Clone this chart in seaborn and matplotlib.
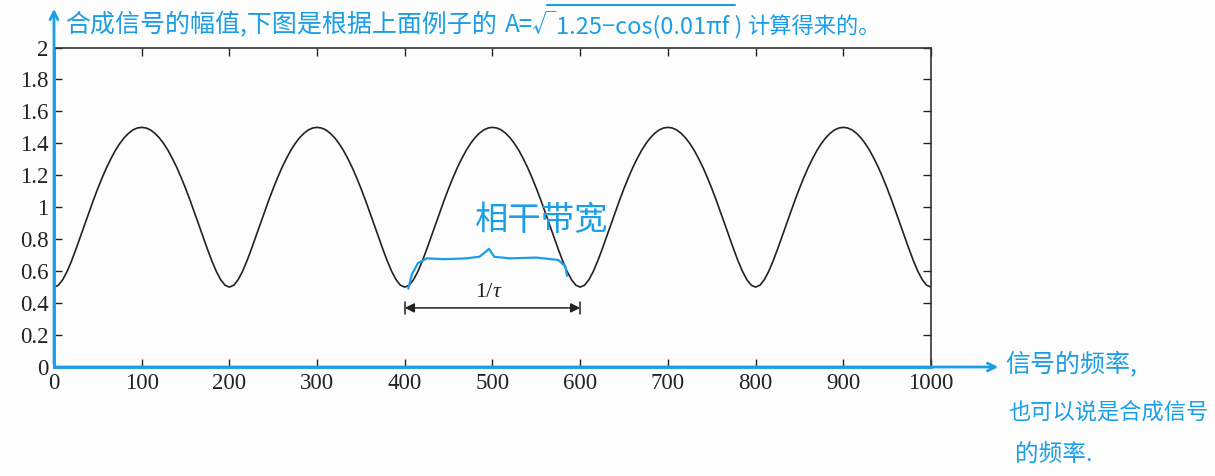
import matplotlib

matplotlib.use("Agg")
import matplotlib.pyplot as plt
import numpy as np
import pandas as pd
import seaborn as sns
from matplotlib.lines import Line2D

# frequency samples and amplitude (period 200, 0.5 .. 1.5)
freq = list(range(0, 1001, 5))
amplitude = [
    0.500, 0.512, 0.547, 0.599, 0.664, 0.737, 0.814, 0.892, 0.970, 1.046,
    1.118, 1.186, 1.249, 1.305, 1.356, 1.399, 1.435, 1.463, 1.484, 1.496,
    1.500, 1.496, 1.484, 1.463, 1.435, 1.399, 1.356, 1.305, 1.249, 1.186,
    1.118, 1.046, 0.970, 0.892, 0.814, 0.737, 0.664, 0.599, 0.547, 0.512,
    0.500, 0.512, 0.547, 0.599, 0.664, 0.737, 0.814, 0.892, 0.970, 1.046,
    1.118, 1.186, 1.249, 1.305, 1.356, 1.399, 1.435, 1.463, 1.484, 1.496,
    1.500, 1.496, 1.484, 1.463, 1.435, 1.399, 1.356, 1.305, 1.249, 1.186,
    1.118, 1.046, 0.970, 0.892, 0.814, 0.737, 0.664, 0.599, 0.547, 0.512,
    0.500, 0.512, 0.547, 0.599, 0.664, 0.737, 0.814, 0.892, 0.970, 1.046,
    1.118, 1.186, 1.249, 1.305, 1.356, 1.399, 1.435, 1.463, 1.484, 1.496,
    1.500, 1.496, 1.484, 1.463, 1.435, 1.399, 1.356, 1.305, 1.249, 1.186,
    1.118, 1.046, 0.970, 0.892, 0.814, 0.737, 0.664, 0.599, 0.547, 0.512,
    0.500, 0.512, 0.547, 0.599, 0.664, 0.737, 0.814, 0.892, 0.970, 1.046,
    1.118, 1.186, 1.249, 1.305, 1.356, 1.399, 1.435, 1.463, 1.484, 1.496,
    1.500, 1.496, 1.484, 1.463, 1.435, 1.399, 1.356, 1.305, 1.249, 1.186,
    1.118, 1.046, 0.970, 0.892, 0.814, 0.737, 0.664, 0.599, 0.547, 0.512,
    0.500, 0.512, 0.547, 0.599, 0.664, 0.737, 0.814, 0.892, 0.970, 1.046,
    1.118, 1.186, 1.249, 1.305, 1.356, 1.399, 1.435, 1.463, 1.484, 1.496,
    1.500, 1.496, 1.484, 1.463, 1.435, 1.399, 1.356, 1.305, 1.249, 1.186,
    1.118, 1.046, 0.970, 0.892, 0.814, 0.737, 0.664, 0.599, 0.547, 0.512,
    0.500,
]
x_ticks = [0, 100, 200, 300, 400, 500, 600, 700, 800, 900, 1000]
y_ticks = [0, 0.2, 0.4, 0.6, 0.8, 1.0, 1.2, 1.4, 1.6, 1.8, 2.0]
y_tick_labels = ["0", "0.2", "0.4", "0.6", "0.8", "1", "1.2", "1.4", "1.6", "1.8", "2"]
span_start, span_end = 400, 600

title_note = "合成信号的幅值,下图是根据上面例子的"
formula_left = "A=√"
formula_body = "1.25−cos(0.01πf )"
formula_tail = "计算得来的。"
brace_note = "相干带宽"
x_notes = ["信号的频率,", "也可以说是合成信号", "的频率."]

BLUE = "#1b9ee8"
W, H = 1215, 476

sns.set_style("ticks")
plt.rcParams["font.family"] = ["Liberation Serif", "DejaVu Serif"]
cjk = ["Noto Sans CJK SC", "DejaVu Sans"]

frame = pd.DataFrame({"freq": freq, "amplitude": amplitude})

fig = plt.figure(figsize=(W / 100, H / 100), dpi=100)
fig.patch.set_facecolor("#fdfdfd")
ax = fig.add_axes([54 / W, 1 - 367 / H, 877 / W, 319.5 / H])
ax.set_facecolor("#fdfdfd")

sns.lineplot(data=frame, x="freq", y="amplitude", ax=ax, color="#222222", linewidth=1.2)

ax.set_xlim(0, 1000)
ax.set_ylim(0, 2)
ax.set_xticks(x_ticks)
ax.set_yticks(y_ticks)
ax.set_yticklabels(y_tick_labels)
ax.set_xlabel("")
ax.set_ylabel("")
ax.tick_params(direction="in", top=True, right=True, length=6, width=1,
               labelsize=16.5, colors="#222222", pad=4)
for side in ["top", "right"]:
    ax.spines[side].set_color("#333333")
    ax.spines[side].set_linewidth(1.2)
for side in ["left", "bottom"]:
    ax.spines[side].set_color(BLUE)
    ax.spines[side].set_linewidth(2)

# 1/tau span marker
ax.annotate("", xy=(span_start, 0.37), xytext=(span_end, 0.37),
            arrowprops=dict(arrowstyle="<|-|>", color="#222222", lw=1.1,
                            mutation_scale=14, shrinkA=0, shrinkB=0))
for xv in [span_start, span_end]:
    ax.plot([xv, xv], [0.33, 0.41], color="#222222", lw=1.1)
ax.text(500, 0.41, "1/", fontsize=16, ha="right", va="bottom", color="#222222")
ax.text(500, 0.41, "τ", fontsize=16, ha="left", va="bottom", color="#222222",
        style="italic")

# hand drawn brace over the coherence bandwidth
bx = np.array([404, 408, 415, 425, 445, 470, 485, 492, 496, 502, 520, 550, 575, 583, 585])
by = np.array([0.49, 0.58, 0.65, 0.68, 0.675, 0.68, 0.69, 0.72, 0.74, 0.69, 0.68, 0.685, 0.67, 0.63, 0.57])
ax.plot(bx, by, color=BLUE, lw=1.6, solid_capstyle="round")
ax.text(555, 0.92, brace_note, family=cjk, fontsize=24, color=BLUE,
        ha="center", va="center")

# blue axis arrows
fig.add_artist(matplotlib.patches.FancyArrowPatch(
    (54 / W, 1 - 367 / H), (54 / W, 1 - 6 / H), transform=fig.transFigure,
    arrowstyle="->", mutation_scale=14, color=BLUE, lw=2))
fig.add_artist(matplotlib.patches.FancyArrowPatch(
    (54 / W, 1 - 367 / H), (1001 / W, 1 - 367 / H), transform=fig.transFigure,
    arrowstyle="->", mutation_scale=14, color=BLUE, lw=2))

# handwritten notes
fig.text(65 / W, 1 - 25 / H, title_note, family=cjk, fontsize=18, color=BLUE, va="center")
fig.text(505 / W, 1 - 25 / H, formula_left, family=cjk, fontsize=17.5, color=BLUE, va="center")
fig.text(556 / W, 1 - 27 / H, formula_body, family=cjk, fontsize=17, color=BLUE, va="center")
fig.add_artist(Line2D([547 / W, 735 / W], [1 - 5 / H, 1 - 5 / H],
                      transform=fig.transFigure, color=BLUE, lw=1.5))
fig.text(748 / W, 1 - 27 / H, formula_tail, family=cjk, fontsize=16, color=BLUE, va="center")

fig.text(1005 / W, 1 - 365 / H, x_notes[0], family=cjk, fontsize=18, color=BLUE, va="center")
fig.text(1008 / W, 1 - 413 / H, x_notes[1], family=cjk, fontsize=16, color=BLUE, va="center")
fig.text(1015 / W, 1 - 455 / H, x_notes[2], family=cjk, fontsize=17, color=BLUE, va="center")

fig.savefig("out.png", dpi=100, facecolor=fig.get_facecolor())
